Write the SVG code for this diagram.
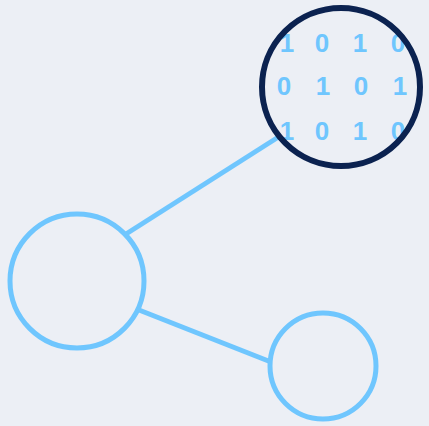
<svg xmlns="http://www.w3.org/2000/svg" width="429" height="426" viewBox="0 0 429 426">
<style>
.edge{stroke:#6fc6fe;stroke-width:5;fill:none}
.node{stroke:#6fc6fe;stroke-width:5;fill:none}
.bit{font-family:"Liberation Sans",Arial,sans-serif;font-weight:bold;font-size:26px;fill:#6fc6fe;text-anchor:middle}
</style>
<rect width="429" height="426" fill="#eceff5"/>
<g id="connectors">
<line class="edge" x1="126" y1="234" x2="280" y2="136"/>
<line class="edge" x1="139" y1="310" x2="271" y2="362"/>
</g>
<g id="node-left">
<circle class="node" cx="77" cy="281" r="67"/>
</g>
<g id="node-bottom">
<circle class="node" cx="323" cy="366" r="53"/>
</g>
<g id="node-data">
<text class="bit" x="287" y="52">1</text>
<text class="bit" x="322" y="52">0</text>
<text class="bit" x="360" y="52">1</text>
<text class="bit" x="398" y="52">0</text>
<text class="bit" x="284" y="95">0</text>
<text class="bit" x="323" y="95">1</text>
<text class="bit" x="361" y="95">0</text>
<text class="bit" x="400" y="95">1</text>
<text class="bit" x="287" y="140">1</text>
<text class="bit" x="322" y="140">0</text>
<text class="bit" x="360" y="140">1</text>
<text class="bit" x="398" y="140">0</text>
<circle cx="341" cy="87" r="79" fill="none" stroke="#0b2250" stroke-width="6"/>
</g>
</svg>
